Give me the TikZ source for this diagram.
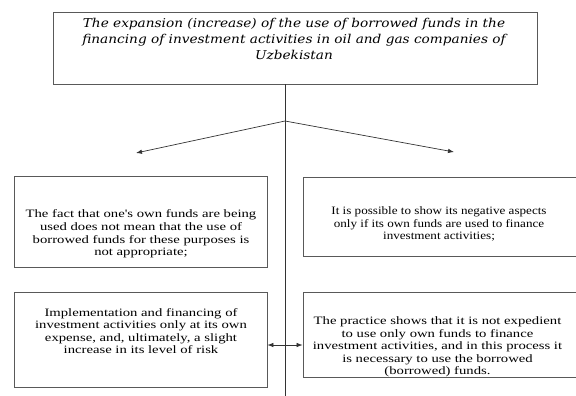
\documentclass[tikz,border=0pt]{standalone}
\usepackage{fontspec}
\setmainfont{Liberation Serif}
\newfontfamily\bodyfont[FakeStretch=1.3]{Liberation Serif}
\newfontfamily\narrowbodyfont[FakeStretch=1.16]{Liberation Serif}
\newfontfamily\titlefont[FakeStretch=1.12]{DejaVu Serif}
\usetikzlibrary{arrows.meta}
\begin{document}
\begin{tikzpicture}[x=1pt,y=-1pt,
  boxst/.style={draw=black!65, line width=0.8pt, rectangle, inner sep=0pt},
  bodytxt/.style={align=center, inner sep=0pt, font=\bodyfont\fontsize{11.3}{12.6}\selectfont},
  conn/.style={draw=black!80, line width=0.7pt},
  tip/.style={-{Latex[length=6pt,width=4.5pt]}}]
\useasboundingbox (0,0) rectangle (576,396);
% boxes
\node[boxst, minimum width=484pt, minimum height=72pt] (top) at (295,48) {};
\node[boxst, minimum width=253pt, minimum height=91pt] (L1) at (140.5,221.5) {};
\node[boxst, minimum width=277pt, minimum height=79pt] (R1) at (441.5,216.5) {};
\node[boxst, minimum width=253pt, minimum height=95pt] (L2) at (140.5,339.5) {};
\node[boxst, minimum width=277pt, minimum height=85pt] (R2) at (441.5,334.5) {};
% texts
\node[align=center, inner sep=0pt, font=\titlefont\itshape\fontsize{12.2}{15.8}\selectfont] (toptxt) at (294,39)
  {The expansion (increase) of the use of borrowed funds in the\\
   financing of investment activities in oil and gas companies of\\
   Uzbekistan};
\node[bodytxt] (L1txt) at (141,234)
  {The fact that one's own funds are being\\
   used does not mean that the use of\\
   borrowed funds for these purposes is\\
   not appropriate;};
\node[bodytxt, font=\narrowbodyfont\fontsize{11.3}{12.2}\selectfont] (R1txt) at (439,224)
  {It is possible to show its negative aspects\\
   only if its own funds are used to finance\\
   investment activities;};
\node[bodytxt] (L2txt) at (141,331)
  {Implementation and financing of\\
   investment activities only at its own\\
   expense, and, ultimately, a slight\\
   increase in its level of risk};
\node[bodytxt] (R2txt) at (437.5,347)
  {The practice shows that it is not expedient\\
   to use only own funds to finance\\
   investment activities, and in this process it\\
   is necessary to use the borrowed\\
   (borrowed) funds.};
% connectors
\coordinate (fork) at (285,121);
\coordinate (bend) at (285,396);
\coordinate (la) at (136,153);
\coordinate (ra) at (454,152);
\draw[conn] (top.south -| fork) -- (bend);
\draw[conn, tip] (fork) -- (la);
\draw[conn, tip] (fork) -- (ra);
\draw[conn, {Latex[length=6pt,width=4.5pt]}-{Latex[length=6pt,width=4.5pt]}] (L2.east |- 0,345) -- (R2.west |- 0,345);
\end{tikzpicture}
\end{document}
